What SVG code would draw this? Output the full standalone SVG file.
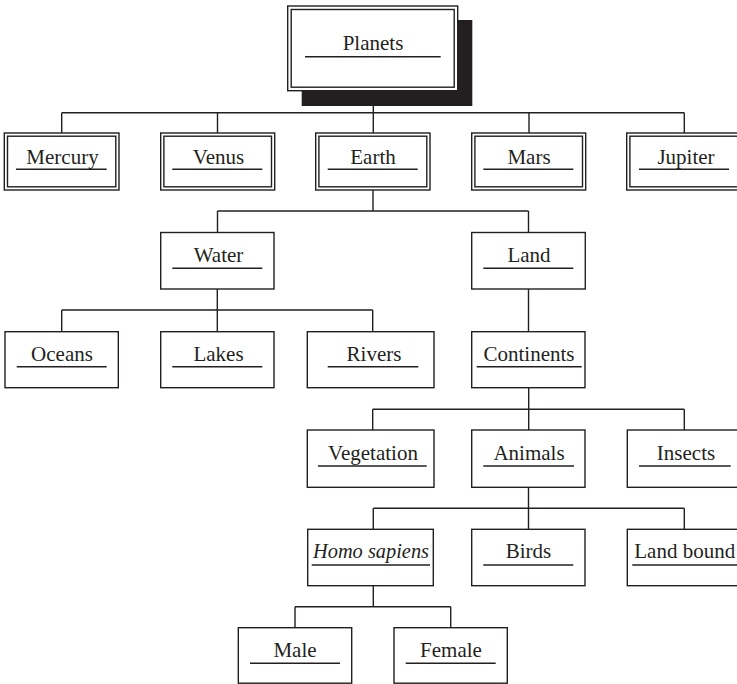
<svg xmlns="http://www.w3.org/2000/svg" width="737" height="684" viewBox="0 0 737 684">
  <style>
    .bx { fill: #ffffff; stroke: #231f20; stroke-width: 1.4; }
    .ln { fill: none; stroke: #231f20; stroke-width: 1.4; }
    .ul { stroke: #231f20; stroke-width: 1.4; }
    .lbl { font-family: "Liberation Serif", "Times New Roman", serif; font-size: 21px; fill: #231f20; text-anchor: middle; }
    .it { font-style: italic; }
  </style>
  <rect width="737" height="684" fill="#ffffff"/>

  <!-- connectors -->
  <g id="connectors" class="ln">
    <path d="M373.3 106 V133 M61.7 112.7 H684.3 M61.7 112.7 V133 M217.5 112.7 V133 M529 112.7 V133 M684.3 112.7 V133"/>
    <path d="M373 190 V211 M217.5 211 H528.5 M217.5 211 V232.5 M528.5 211 V232.5"/>
    <path d="M217.3 289 V331.7 M61.7 310 H372.7 M61.7 310 V331.7 M372.7 310 V331.7"/>
    <path d="M528.5 289 V331.7"/>
    <path d="M528.7 387.5 V430 M372.7 409.3 H684.3 M372.7 409.3 V430 M684.3 409.3 V430"/>
    <path d="M528.5 487.3 V529.3 M373.3 508.3 H684.3 M373.3 508.3 V529.3 M684.3 508.3 V529.3"/>
    <path d="M373.3 585.7 V606.7 M295 606.7 H450.7 M295 606.7 V627.7 M450.7 606.7 V627.7"/>
  </g>

  <!-- root node with drop shadow -->
  <g id="planets">
    <rect x="301.7" y="20" width="170.6" height="86" fill="#231f20"/>
    <rect class="bx" x="287.7" y="6" width="170" height="84.7" stroke-width="2"/>
    <rect class="bx" x="291.2" y="9.5" width="163" height="77.7"/>
    <text class="lbl" x="373" y="50">Planets</text>
    <line class="ul" x1="305" y1="56.7" x2="440.7" y2="56.7"/>
  </g>

  <!-- planets row (double border) -->
  <g id="mercury">
    <rect class="bx" x="4.3" y="133" width="114.7" height="57"/>
    <rect class="bx" x="7.5" y="136.2" width="108.3" height="50.6"/>
    <text class="lbl" x="62.5" y="164.3">Mercury</text>
    <line class="ul" x1="16" y1="169.3" x2="106.7" y2="169.3"/>
  </g>
  <g id="venus">
    <rect class="bx" x="160.7" y="133" width="114" height="57"/>
    <rect class="bx" x="163.9" y="136.2" width="107.6" height="50.6"/>
    <text class="lbl" x="218.5" y="164.3">Venus</text>
    <line class="ul" x1="172.3" y1="169.3" x2="262.3" y2="169.3"/>
  </g>
  <g id="earth">
    <rect class="bx" x="315.7" y="133" width="114.3" height="57"/>
    <rect class="bx" x="318.9" y="136.2" width="107.9" height="50.6"/>
    <text class="lbl" x="373" y="164.3">Earth</text>
    <line class="ul" x1="327.7" y1="169.3" x2="417.7" y2="169.3"/>
  </g>
  <g id="mars">
    <rect class="bx" x="471.7" y="133" width="114" height="57"/>
    <rect class="bx" x="474.9" y="136.2" width="107.6" height="50.6"/>
    <text class="lbl" x="529" y="164.3">Mars</text>
    <line class="ul" x1="483.3" y1="169.3" x2="573.3" y2="169.3"/>
  </g>
  <g id="jupiter">
    <rect class="bx" x="626.7" y="133" width="114.3" height="57"/>
    <rect class="bx" x="629.9" y="136.2" width="107.9" height="50.6"/>
    <text class="lbl" x="686" y="164.3">Jupiter</text>
    <line class="ul" x1="639" y1="169.3" x2="729" y2="169.3"/>
  </g>

  <!-- Earth children -->
  <g id="water">
    <rect class="bx" x="160.7" y="232.5" width="113.3" height="56.5"/>
    <text class="lbl" x="218.5" y="261.7">Water</text>
    <line class="ul" x1="172.3" y1="268.3" x2="262.3" y2="268.3"/>
  </g>
  <g id="land">
    <rect class="bx" x="471.7" y="232.5" width="113.6" height="56.5"/>
    <text class="lbl" x="529" y="261.7">Land</text>
    <line class="ul" x1="483.3" y1="268.3" x2="573.3" y2="268.3"/>
  </g>

  <!-- Water children -->
  <g id="oceans">
    <rect class="bx" x="5" y="331.7" width="113.3" height="56"/>
    <text class="lbl" x="62" y="361">Oceans</text>
    <line class="ul" x1="16.7" y1="366.7" x2="106.7" y2="366.7"/>
  </g>
  <g id="lakes">
    <rect class="bx" x="160.7" y="331.7" width="113.3" height="56"/>
    <text class="lbl" x="218.5" y="361">Lakes</text>
    <line class="ul" x1="172.3" y1="366.7" x2="262.3" y2="366.7"/>
  </g>
  <g id="rivers">
    <rect class="bx" x="307.3" y="331.7" width="126.7" height="56"/>
    <text class="lbl" x="374" y="361">Rivers</text>
    <line class="ul" x1="327.7" y1="366.7" x2="418.3" y2="366.7"/>
  </g>

  <!-- Land children -->
  <g id="continents">
    <rect class="bx" x="471.7" y="331.7" width="113.3" height="56"/>
    <text class="lbl" x="529" y="361">Continents</text>
    <line class="ul" x1="476.7" y1="366.7" x2="581.7" y2="366.7"/>
  </g>

  <!-- Continents children -->
  <g id="vegetation">
    <rect class="bx" x="307.3" y="430" width="126.7" height="57.3"/>
    <text class="lbl" x="373" y="460">Vegetation</text>
    <line class="ul" x1="318" y1="466" x2="426.7" y2="466"/>
  </g>
  <g id="animals">
    <rect class="bx" x="471.7" y="430" width="113.3" height="57.3"/>
    <text class="lbl" x="529" y="460">Animals</text>
    <line class="ul" x1="483.3" y1="466" x2="574" y2="466"/>
  </g>
  <g id="insects">
    <rect class="bx" x="627.3" y="430" width="114" height="57.3"/>
    <text class="lbl" x="686" y="460">Insects</text>
    <line class="ul" x1="639" y1="466" x2="730.7" y2="466"/>
  </g>

  <!-- Animals children -->
  <g id="homo-sapiens">
    <rect class="bx" x="307.7" y="529.3" width="125.6" height="56.4"/>
    <text class="lbl it" x="371" y="558.3" textLength="116" lengthAdjust="spacingAndGlyphs">Homo sapiens</text>
    <line class="ul" x1="311.7" y1="565" x2="430" y2="565"/>
  </g>
  <g id="birds">
    <rect class="bx" x="471.7" y="529.3" width="113.3" height="56.4"/>
    <text class="lbl" x="528.5" y="558.3">Birds</text>
    <line class="ul" x1="483.3" y1="565" x2="573.3" y2="565"/>
  </g>
  <g id="land-bound">
    <rect class="bx" x="627.3" y="529.3" width="114" height="56.4"/>
    <text class="lbl" x="634.3" y="558.3" style="text-anchor:start">Land bound</text>
    <line class="ul" x1="632.3" y1="565" x2="741" y2="565"/>
  </g>

  <!-- Homo sapiens children -->
  <g id="male">
    <rect class="bx" x="238.3" y="627.7" width="113.4" height="55.5"/>
    <text class="lbl" x="295" y="656.7">Male</text>
    <line class="ul" x1="250" y1="663.3" x2="340" y2="663.3"/>
  </g>
  <g id="female">
    <rect class="bx" x="394" y="627.7" width="113.3" height="55.5"/>
    <text class="lbl" x="451" y="656.7">Female</text>
    <line class="ul" x1="405.7" y1="663.3" x2="495.7" y2="663.3"/>
  </g>
</svg>
